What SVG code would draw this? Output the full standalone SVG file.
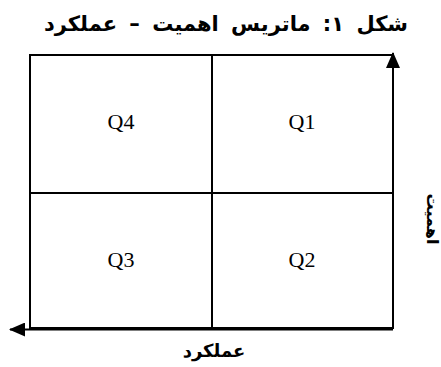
<svg xmlns="http://www.w3.org/2000/svg" width="441" height="367" viewBox="0 0 441 367">
<style>
.ar{font-family:"DejaVu Sans","Noto Sans",sans-serif;font-weight:bold;fill:#000}
.q{font-family:"Liberation Serif","Times New Roman",serif;font-size:22px;fill:#000;text-anchor:middle}
.ln{stroke:#000;stroke-width:2;fill:none}
</style>
<defs>
<marker id="ah" viewBox="0 0 16 14" refX="15" refY="7" markerWidth="16" markerHeight="14" markerUnits="userSpaceOnUse" orient="auto">
<path d="M0,0 L16,7 L0,14 Z" fill="#000"/>
</marker>
</defs>
<rect width="441" height="367" fill="#fff"/>
<text id="title" class="ar" x="226" y="31" font-size="21" word-spacing="5" text-anchor="middle" direction="rtl">شکل ۱: ماتریس اهمیت – عملکرد</text>
<g id="matrix">
<rect class="ln" x="30" y="55" width="363" height="273"/>
<line class="ln" x1="212" y1="55" x2="212" y2="328"/>
<line class="ln" x1="30" y1="193" x2="393" y2="193"/>
</g>
<g id="q4"><text class="q" x="121" y="129">Q4</text></g>
<g id="q1"><text class="q" x="302" y="129">Q1</text></g>
<g id="q3"><text class="q" x="121" y="267">Q3</text></g>
<g id="q2"><text class="q" x="302" y="267">Q2</text></g>
<g id="connectors">
<line stroke="#000" stroke-width="2" x1="393" y1="329" x2="393" y2="53" marker-end="url(#ah)"/>
<line stroke="#000" stroke-width="2" x1="393" y1="329.5" x2="10" y2="329.5" marker-end="url(#ah)"/>
</g>
<text id="ylabel" class="ar" font-size="16" text-anchor="middle" direction="rtl" transform="translate(427,219) rotate(90)">اهمیت</text>
<text id="xlabel" class="ar" x="214" y="357" font-size="18" text-anchor="middle" direction="rtl">عملکرد</text>
</svg>
